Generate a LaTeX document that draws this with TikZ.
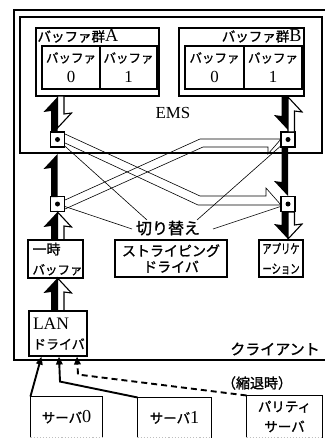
\documentclass[tikz,border=0pt]{standalone}
\usepackage{fontspec}
\setmainfont{Liberation Serif}[Scale=1.35]
\newfontfamily\jp{Noto Sans CJK JP}[FakeBold=1.2]
\usepackage{tikz}
\usetikzlibrary{positioning, calc, arrows.meta}
\tikzset{every picture/.append style={line width=1.1pt}}

% half arrows: black = left half, white = right half
\newcommand{\hupB}[3]{\fill (#1,#2) -- (#1-14,#2+15) -- (#1-6.5,#2+14) -- (#1-6.5,#3) -- (#1,#3) -- cycle;}
\newcommand{\hupW}[3]{\draw[fill=white] (#1,#2) -- (#1+14,#2+15) -- (#1+6.5,#2+14) -- (#1+6.5,#3) -- (#1,#3) -- cycle;}
\newcommand{\hdnB}[3]{\fill (#1,#2) -- (#1-14,#2-15) -- (#1-6.5,#2-14) -- (#1-6.5,#3) -- (#1,#3) -- cycle;}
\newcommand{\hdnW}[3]{\draw[fill=white] (#1,#2) -- (#1+14,#2-15) -- (#1+6.5,#2-14) -- (#1+6.5,#3) -- (#1,#3) -- cycle;}

\begin{document}
\begin{tikzpicture}[x=1pt, y=-1pt,
    box/.style={draw, inner sep=0pt},
    sw/.style={draw, fill=white, minimum width=14, minimum height=15, inner sep=0pt},
    jtxt/.style={font=\jp\fontsize{12.5}{20}\selectfont, inner sep=0pt},
    srv/.style={line width=1.9pt, -{Triangle[length=8pt,width=6.5pt]}},
    >=stealth]

    \useasboundingbox (0,0) rectangle (324,439);

    \def\xL{57.5}
    \def\xR{288}

    % ---------------------------------------------------
    % 1. Client and EMS
    % ---------------------------------------------------
    \draw (330,10) -- (14,10) -- (14,360) -- (330,360);
    \draw (20,17) rectangle (322,153);
    \node[font=\fontsize{12.5}{16}\selectfont, inner sep=0pt] (ems) at (173,113) {EMS};
    \node[jtxt, font=\jp\fontsize{15}{16}\selectfont] (client) at (275,349) {クライアント};

    % buffer groups
    \node[box, minimum width=123, minimum height=68] (grpA) at (97.5,62) {};
    \node[jtxt, font=\jp\fontsize{13.5}{15}\selectfont, anchor=north west] (grpAt) at (37,29) {バッファ群{\rmfamily A}};
    \node[box, jtxt, minimum width=58, minimum height=43, align=center] (cAz) at (71,67.5) {バッファ\\{\rmfamily 0}};
    \node[box, jtxt, minimum width=57, minimum height=43, align=center] (cAo) at (128.5,67.5) {バッファ\\{\rmfamily 1}};

    \node[box, minimum width=125, minimum height=68] (grpB) at (241.5,62) {};
    \node[jtxt, font=\jp\fontsize{13.5}{15}\selectfont, anchor=north east] (grpBt) at (302,29) {バッファ群{\rmfamily B}};
    \node[box, jtxt, minimum width=59, minimum height=43, align=center] (cBz) at (214.5,67.5) {バッファ\\{\rmfamily 0}};
    \node[box, jtxt, minimum width=58, minimum height=43, align=center] (cBo) at (273,67.5) {バッファ\\{\rmfamily 1}};

    % ---------------------------------------------------
    % 2. Crossing paths and switches
    % ---------------------------------------------------
    \draw[semithick] (65,134) -- (200,196) -- (266,196) -- (266,188) -- (281,205) -- (198,205) -- (65,143);
    \draw[semithick] (65,200) -- (200,139) -- (281,139) -- (268,154) -- (268,147) -- (203,147) -- (65,209);

    \node[jtxt, font=\jp\fontsize{16}{17}\selectfont] (chg) at (168,228) {切り替え};

    \coordinate (swLa) at (\xL,139.5);
    \coordinate (swLb) at (\xL,204);
    \coordinate (swRa) at (\xR,139.5);
    \coordinate (swRb) at (\xR,204);

    \draw[semithick] (swLa) -- ($(chg)+(-21,-8)$);
    \draw[semithick] (swLb) -- ($(chg)+(-36,1)$);
    \draw[semithick] (swRa) -- ($(chg)+(29,-8)$);
    \draw[semithick] (swRb) -- ($(chg)+(45,1)$);

    \foreach \s in {swLa, swLb, swRa, swRb} {
        \node[sw] at (\s) {};
        \fill (\s) circle (2.5);
    }

    % ---------------------------------------------------
    % 3. Data flow arrows
    % ---------------------------------------------------
    % left column
    \hupB{\xL}{97}{132}
    \hdnW{\xL}{128}{96}
    \hupB{\xL}{154}{197}
    \hupB{\xL}{212}{240}
    \hupW{\xL}{212}{240}
    \hupB{\xL}{278}{311}
    \hupW{\xL}{278}{311}

    % right column
    \hdnB{\xR}{130}{96}
    \hupW{\xR}{97}{132}
    \hdnB{\xR}{196}{147}
    \hdnB{\xR}{239}{212}
    \hdnW{\xR}{239}{212}

    % ---------------------------------------------------
    % 4. Drivers and buffers
    % ---------------------------------------------------
    \node[box, jtxt, minimum width=55, minimum height=38, text width=46, align=left] (tmp) at (55.5,259) {{\fontsize{14}{20}\selectfont 一時}\\バッファ};
    \node[box, jtxt, font=\jp\fontsize{14}{16}\selectfont, minimum width=112, minimum height=37, align=center] (stripe) at (171,258.5) {ストライピング\\ドライバ};
    \node[box, jtxt, font=\jp\fontsize{13}{20}\selectfont, minimum width=44, minimum height=37, align=center] (app) at (281,258.5) {\scalebox{0.72}[1]{アプリケ}\\\scalebox{0.72}[1]{ーション}};
    \node[box, jtxt, font=\jp\fontsize{13}{20}\selectfont, minimum width=58, minimum height=45, text width=50, align=left] (lan) at (58,333.5) {{\rmfamily LAN}\\ドライバ};

    % ---------------------------------------------------
    % 5. Servers
    % ---------------------------------------------------
    \node[jtxt, font=\jp\fontsize{13.5}{20}\selectfont, minimum width=71, minimum height=40] (srvz) at (66.5,417) {サーバ{\rmfamily 0}};
    \node[jtxt, font=\jp\fontsize{13.5}{20}\selectfont, minimum width=73, minimum height=39] (srvo) at (174.5,417.5) {サーバ{\rmfamily 1}};
    \node[jtxt, font=\jp\fontsize{13.5}{20}\selectfont, minimum width=75, minimum height=41, align=center] (pari) at (284.5,416.5) {パリティ\\サーバ};
    \foreach \s in {srvz, srvo, pari} {
        \draw (\s.south west) -- (\s.north west) -- (\s.north east) -- (\s.south east);
        \draw[gray!50, dotted] (\s.south west) -- (\s.south east);
    }

    \draw[srv] (srvz.north west) -- ($(lan.south west)+(13,0)$);
    \draw[srv] (srvo.north west) -- ($(lan.south)+(2,25)$) -- ($(lan.south)+(1,0)$);
    \draw[srv, dash pattern=on 6pt off 4pt] (pari.north west) -- ($(lan.south)+(20,18)$) -- ($(lan.south)+(19,0)$);
    \node[jtxt, font=\jp\fontsize{14}{16}\selectfont] (degr) at (257,383) {（縮退時）};

\end{tikzpicture}
\end{document}
